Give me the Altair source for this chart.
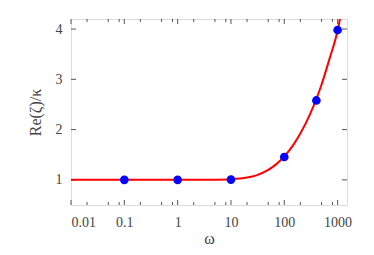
import altair as alt
import pandas as pd

# Curve
curve_w = [0.01, 0.03, 0.1, 0.3, 1, 3, 5, 10, 20, 30, 50, 70, 100, 150, 200, 300, 400, 500, 700, 1000, 1200]
curve_v = [1.0, 1.0, 1.0, 1.0, 1.0, 1.001, 1.003, 1.012, 1.045, 1.09, 1.197, 1.308, 1.467, 1.707, 1.921, 2.292, 2.61, 2.897, 3.397, 3.97, 4.4]

# Data points
pts_w = [0.1, 1, 10, 100, 400, 1000]
pts_v = [1.0, 1.0, 1.005, 1.455, 2.58, 3.98]

x_major = [0.01, 0.1, 1, 10, 100, 1000]
x_minor = [m * d for d in [0.01, 0.1, 1, 10, 100] for m in (2, 5, 8)]
y_major = [1, 2, 3, 4]

W, H = 276, 186
FRAME = "#555555"
TXT = "#444444"
FONT = "Liberation Serif"

xs = alt.Scale(type="log", domain=[0.01, 1500], nice=False)
ys = alt.Scale(domain=[0.5, 4.2], nice=False, zero=False)

curve = pd.DataFrame({"w": curve_w, "v": curve_v})
pts = pd.DataFrame({"w": pts_w, "v": pts_v})
xmaj = pd.DataFrame({"w": x_major})
xmin = pd.DataFrame({"w": x_minor})
ymaj = pd.DataFrame({"v": y_major})

xaxis = alt.Axis(values=x_major, format="~g", ticks=False, domain=False, grid=False,
                 labelFont=FONT, labelFontSize=14, labelColor=TXT, labelPadding=10,
                 title="ω", titleFont=FONT, titleFontSize=16, titleFontWeight="normal",
                 titleColor=TXT, titleY=38, titleBaseline="alphabetic")
yaxis = alt.Axis(values=y_major, format="d", ticks=False, domain=False, grid=False,
                 labelFont=FONT, labelFontSize=14, labelColor=TXT, labelPadding=9,
                 title="Re(ζ)/κ", titleFont=FONT, titleFontSize=16, titleFontWeight="normal",
                 titleColor=TXT, titleX=-36, titleY=H / 2, titleBaseline="middle",
                 titleAngle=-90, titleAlign="center")

line = alt.Chart(curve).mark_line(color="#ff0000", strokeWidth=2, clip=True,
                                  interpolate="monotone").encode(
    x=alt.X("w:Q", scale=xs, axis=xaxis),
    y=alt.Y("v:Q", scale=ys, axis=yaxis),
)
dots = alt.Chart(pts).mark_circle(color="#0000ff", opacity=1, size=75).encode(
    x=alt.X("w:Q", scale=xs),
    y=alt.Y("v:Q", scale=ys),
)

def xticks(df, y0, y1):
    return alt.Chart(df).mark_rule(color=FRAME, strokeWidth=1).encode(
        x=alt.X("w:Q", scale=xs), y=alt.value(y0), y2=alt.value(y1))

def yticks(df, x0, x1):
    return alt.Chart(df).mark_rule(color=FRAME, strokeWidth=1).encode(
        y=alt.Y("v:Q", scale=ys), x=alt.value(x0), x2=alt.value(x1))

chart = alt.layer(
    xticks(xmaj, H, H - 5), xticks(xmaj, 0, 5),
    xticks(xmin, H, H - 3), xticks(xmin, 0, 3),
    yticks(ymaj, 0, 5), yticks(ymaj, W, W - 5),
    line, dots,
).properties(
    width=W, height=H,
    autosize=alt.AutoSizeParams(type="none"),
    padding={"left": 63, "top": 11, "right": 19, "bottom": 42},
).configure_view(stroke=FRAME, strokeWidth=1.5).configure(background="white")

chart.save("out.html", embed_options={"renderer": "svg", "actions": False})
